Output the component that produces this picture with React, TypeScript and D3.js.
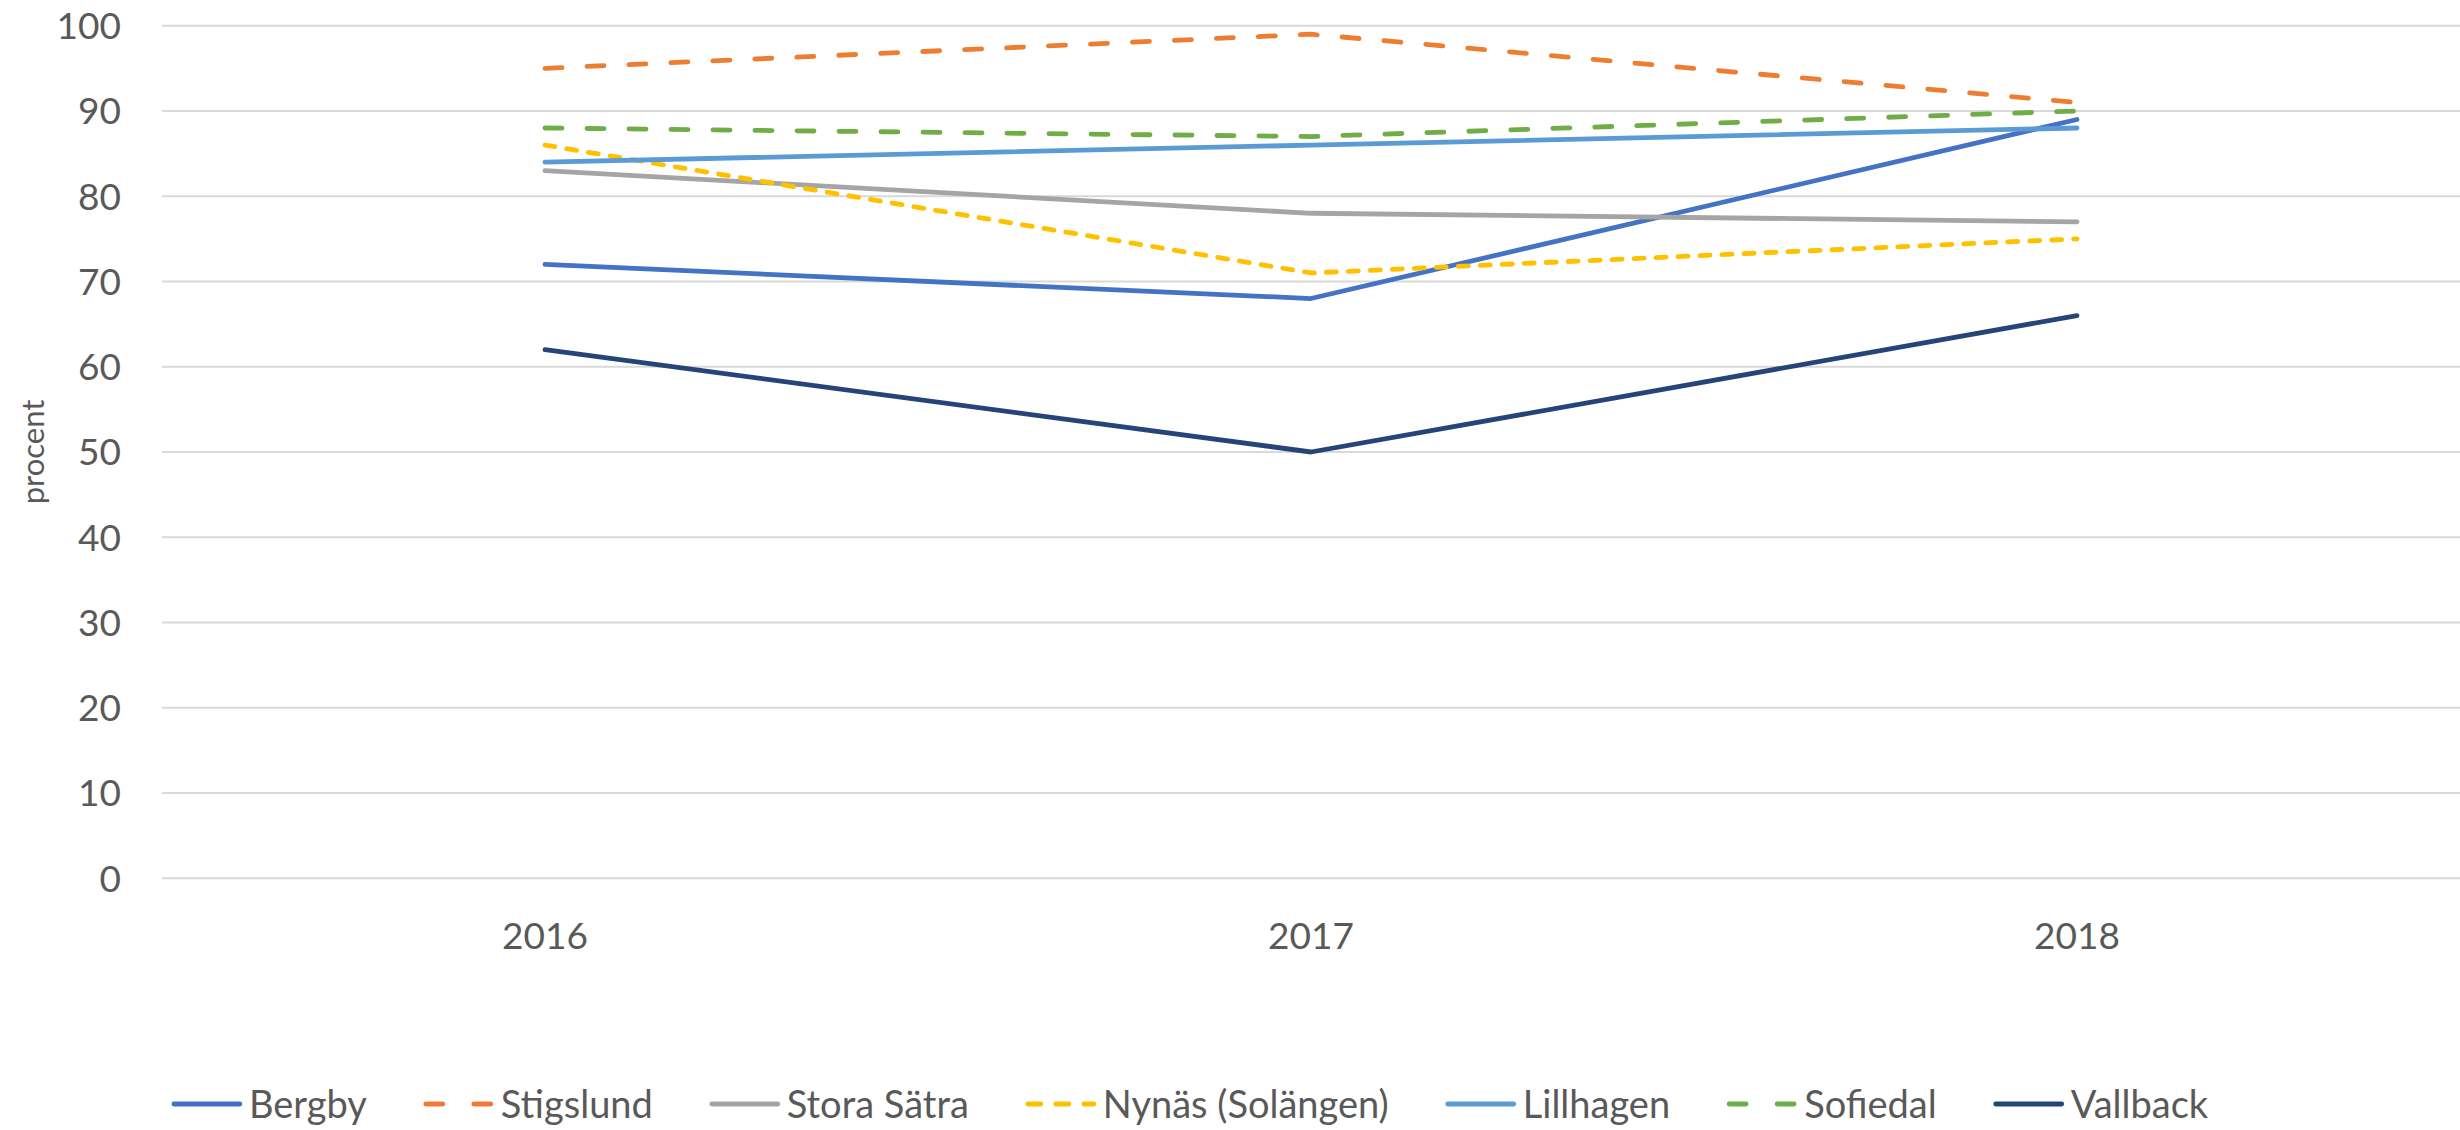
import React, { useEffect, useRef } from "react";
import * as d3 from "d3";

const years = ["2016", "2017", "2018"];
const seriesNames = ["Bergby", "Stigslund", "Stora Sätra", "Nynäs (Solängen)", "Lillhagen", "Sofiedal", "Vallback"];
const bergby = [72, 68, 89];
const stigslund = [95, 99, 91];
const storaSatra = [83, 78, 77];
const nynas = [86, 71, 75];
const lillhagen = [84, 86, 88];
const sofiedal = [88, 87, 90];
const vallback = [62, 50, 66];
const yTicks = [0, 10, 20, 30, 40, 50, 60, 70, 80, 90, 100];
const yTitle = "procent";

const seriesValues = [bergby, stigslund, storaSatra, nynas, lillhagen, sofiedal, vallback];
const colors = ["#4472C4", "#ED7D31", "#A5A5A5", "#FFC000", "#5B9BD5", "#70AD47", "#264478"];
const dashes = [null, "17 25", null, "10 12", null, "17 25", null];
const legendDashes = [null, "17 31", null, "13 15", null, "17 31", null];

const W = 2460;
const H = 1130;
const FONT = "Lato, 'Open Sans', sans-serif";
const TEXT = "#595959";

export default function App() {
  const ref = useRef<SVGSVGElement>(null);

  useEffect(() => {
    const svg = d3.select(ref.current);
    svg.selectAll("*").remove();

    const left = 162, right = 2460, top = 25.7, bottom = 878.3;
    const x = d3.scaleBand<string>().domain(years).range([left, right]);
    const y = d3.scaleLinear().domain([0, 100]).range([bottom, top]);
    const cx = (d: string) => (x(d) as number) + x.bandwidth() / 2;

    // gridlines
    svg.append("g").selectAll("line").data(yTicks).join("line")
      .attr("x1", left).attr("x2", right)
      .attr("y1", (d) => y(d)).attr("y2", (d) => y(d))
      .attr("stroke", "#D9D9D9").attr("stroke-width", 2);

    // y tick labels
    svg.append("g").selectAll("text").data(yTicks).join("text")
      .attr("x", 121).attr("y", (d) => y(d)).attr("dy", "0.36em")
      .attr("text-anchor", "end").attr("font-family", FONT).attr("font-size", 37)
      .attr("fill", TEXT).text((d) => String(d));

    // x labels
    svg.append("g").selectAll("text").data(years).join("text")
      .attr("x", (d) => cx(d)).attr("y", 936).attr("dy", "0.36em")
      .attr("text-anchor", "middle").attr("font-family", FONT).attr("font-size", 37)
      .attr("fill", TEXT).text((d) => d);

    // y title
    svg.append("text")
      .attr("transform", `translate(33,452) rotate(-90)`)
      .attr("text-anchor", "middle").attr("dy", "0.36em")
      .attr("font-family", FONT).attr("font-size", 31).attr("fill", TEXT)
      .text(yTitle);

    // lines
    const line = d3.line<number>().x((_, i) => cx(years[i])).y((v) => y(v));
    const g = svg.append("g");
    seriesValues.forEach((vals, i) => {
      const p = g.append("path").attr("d", line(vals))
        .attr("fill", "none").attr("stroke", colors[i]).attr("stroke-width", 4.8)
        .attr("stroke-linecap", "round").attr("stroke-linejoin", "round");
      if (dashes[i]) p.attr("stroke-dasharray", dashes[i] as string);
    });

    // legend (flow layout, centered)
    const legY = 1104;
    const swatch = 68, gapText = 9, gapItem = 57;
    const lg = svg.append("g");
    const items = seriesNames.map((name, i) => {
      const it = lg.append("g");
      const l = it.append("line").attr("x1", 2).attr("x2", swatch).attr("y1", legY).attr("y2", legY)
        .attr("stroke", colors[i]).attr("stroke-width", 4.8).attr("stroke-linecap", "round");
      if (legendDashes[i]) l.attr("stroke-dasharray", legendDashes[i] as string);
      const t = it.append("text").attr("x", swatch + gapText).attr("y", legY).attr("dy", "0.36em")
        .attr("font-family", FONT).attr("font-size", 38).attr("fill", TEXT).text(name);
      const tw = (t.node() as SVGTextElement).getComputedTextLength();
      return { it, w: swatch + gapText + tw };
    });
    const total = d3.sum(items, (d) => d.w) + gapItem * (items.length - 1);
    let pos = 1190 - total / 2;
    items.forEach((d) => {
      d.it.attr("transform", `translate(${pos},0)`);
      pos += d.w + gapItem;
    });
  }, []);

  return (
    <svg ref={ref} width={W} height={H}
      style={{ position: "absolute", left: 0, top: 0, background: "#fff" }} />
  );
}
